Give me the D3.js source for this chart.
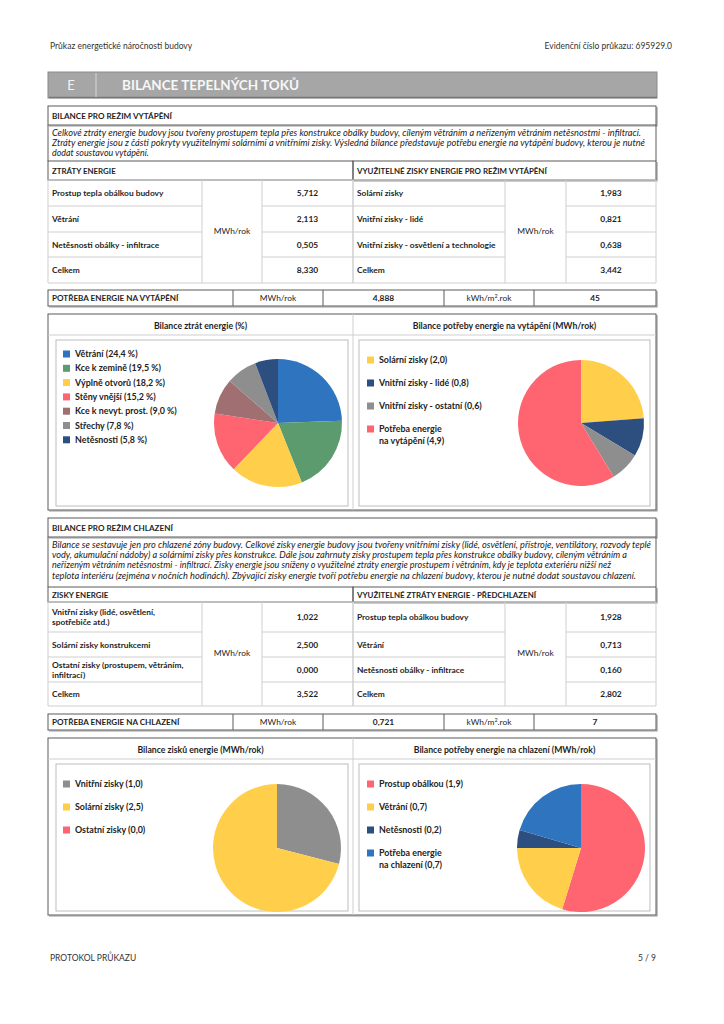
<!DOCTYPE html>
<html><head><meta charset="utf-8">
<script src="https://cdn.jsdelivr.net/npm/d3@7"></script>
<style>body{margin:0;background:#fff}svg{display:block;font-family:Lato,'Open Sans',sans-serif}</style>
</head><body><svg id="c" width="724" height="1024"></svg>
<script>
// ---------- DATA ----------
const heatLossLabels = ["Prostup tepla obálkou budovy", "Větrání", "Netěsnosti obálky - infiltrace", "Celkem"];
const heatLossValues = [5.712, 2.113, 0.505, 8.330];
const heatGainLabels = ["Solární zisky", "Vnitřní zisky - lidé", "Vnitřní zisky - osvětlení a technologie", "Celkem"];
const heatGainValues = [1.983, 0.821, 0.638, 3.442];
const heatNeed = [4.888, 45];

const coolGainLabels = ["Vnitřní zisky (lidé, osvětlení,\nspotřebiče atd.)", "Solární zisky konstrukcemi", "Ostatní zisky (prostupem, větráním,\ninfiltrací)", "Celkem"];
const coolGainValues = [1.022, 2.500, 0.000, 3.522];
const coolLossLabels = ["Prostup tepla obálkou budovy", "Větrání", "Netěsnosti obálky - infiltrace", "Celkem"];
const coolLossValues = [1.928, 0.713, 0.160, 2.802];
const coolNeed = [0.721, 7];

const pieLossLabels = ["Větrání", "Kce k zemině", "Výplně otvorů", "Stěny vnější", "Kce k nevyt. prost.", "Střechy", "Netěsnosti"];
const pieLossValues = [24.4, 19.5, 18.2, 15.2, 9.0, 7.8, 5.8];
const pieLossColors = ["#2f74bf", "#5b9b6e", "#ffcf4c", "#fe6570", "#a06f72", "#8e8e8e", "#2d4f80"];

const pieHeatLabels = ["Solární zisky", "Vnitřní zisky - lidé", "Vnitřní zisky - ostatní", "Potřeba energie\nna vytápění"];
const pieHeatValues = [1.983, 0.821, 0.638, 4.888];
const pieHeatColors = ["#ffcf4c", "#2d4f80", "#8e8e8e", "#fe6570"];

const pieCoolGainLabels = ["Vnitřní zisky", "Solární zisky", "Ostatní zisky"];
const pieCoolGainValues = [1.022, 2.500, 0.000];
const pieCoolGainColors = ["#8e8e8e", "#ffcf4c", "#fe6570"];

const pieCoolLabels = ["Prostup obálkou", "Větrání", "Netěsnosti", "Potřeba energie\nna chlazení"];
const pieCoolValues = [1.928, 0.713, 0.160, 0.721];
const pieCoolColors = ["#fe6570", "#ffcf4c", "#2d4f80", "#2f74bf"];

const heatParagraph = [
  "Celkové ztráty energie budovy jsou tvořeny prostupem tepla přes konstrukce obálky budovy, cíleným větráním a neřízeným větráním netěsnostmi - infiltrací.",
  "Ztráty energie jsou z části pokryty využitelnými solárními a vnitřními zisky. Výsledná bilance představuje potřebu energie na vytápění budovy, kterou je nutné",
  "dodat soustavou vytápění."];
const coolParagraph = [
  "Bilance se sestavuje jen pro chlazené zóny budovy. Celkové zisky energie budovy jsou tvořeny vnitřními zisky (lidé, osvětlení, přístroje, ventilátory, rozvody teplé",
  "vody, akumulační nádoby) a solárními zisky přes konstrukce. Dále jsou zahrnuty zisky prostupem tepla přes konstrukce obálky budovy, cíleným větráním a",
  "neřízeným větráním netěsnostmi - infiltrací. Zisky energie jsou sníženy o využitelné ztráty energie prostupem i větráním, kdy je teplota exteriéru nižší než",
  "teplota interiéru (zejména v nočních hodinách). Zbývající zisky energie tvoří potřebu energie na chlazení budovy, kterou je nutné dodat soustavou chlazení."];

// ---------- HELPERS ----------
const svg = d3.select("#c");
const INK = "#1e1e1e", DARK = "#5a5a5a", LIGHT = "#cfcfcf";
const fmt3 = v => d3.format(".3f")(v).replace(".", ",");
const fmt1 = v => d3.format(".1f")(v).replace(".", ",");
const L = 48, R = 656;

function txt(x, y, s, o = {}) {
  const t = svg.append("text").attr("x", x).attr("y", y).text(s)
    .attr("font-size", o.size || 8).attr("fill", o.fill || INK)
    .attr("font-weight", o.bold ? "bold" : "normal")
    .attr("text-anchor", o.anchor || "start");
  if (o.italic) t.attr("font-style", "italic");
  if (o.len) t.attr("textLength", o.len).attr("lengthAdjust", "spacingAndGlyphs");
  return t;
}
function line(x1, y1, x2, y2, c, w = 1) {
  svg.append("line").attr("x1", x1).attr("y1", y1).attr("x2", x2).attr("y2", y2)
    .attr("stroke", c).attr("stroke-width", w);
}
function box(x, y, w, h, c = DARK, sw = 1, shadow = true) {
  if (shadow) {
    svg.append("path").attr("d", `M${x + w + 1},${y + 1}V${y + h + 1}H${x + 1}`)
      .attr("fill", "none").attr("stroke", "#9a9a9a").attr("stroke-width", 1.2);
  }
  svg.append("rect").attr("x", x).attr("y", y).attr("width", w).attr("height", h)
    .attr("fill", "none").attr("stroke", c).attr("stroke-width", sw);
}

// ---------- PAGE HEADER ----------
txt(50, 49, "Průkaz energetické náročnosti budovy", { size: 8.5, fill: "#333" });
txt(672, 49, "Evidenční číslo průkazu: 695929.0", { size: 8.5, fill: "#333", anchor: "end" });

// banner
svg.append("rect").attr("x", L).attr("y", 72).attr("width", R - L + 1).attr("height", 26)
  .attr("fill", "#a6a6a6").attr("stroke", "#8a8a8a");
line(L + 1, 97.5, R + 1, 97.5, "#777", 1.5);
line(96, 73, 96, 97, "#cfcfcf", 1.2);
txt(71, 90, "E", { size: 13, fill: "#f4f4f4", anchor: "middle" });
txt(122, 90, "BILANCE TEPELNÝCH TOKŮ", { size: 13.5, fill: "#f7f7f7", bold: true });

// ---------- SECTION + TABLE ----------
function section(y0, title, para, paraEnds, tableTop, headH, bounds, leftHead, rightHead,
                 lLabels, lVals, rLabels, rVals) {
  box(L, y0, R - L, 19);
  txt(52, y0 + 13, title, { size: 8.1, bold: true });
  line(L, y0 + 19, L, tableTop, DARK);
  line(R, y0 + 19, R, tableTop, DARK);
  para.forEach((s, i) => {
    const o = { size: 8.9, italic: true, fill: "#222" };
    if (paraEnds[i]) o.len = paraEnds[i] - 52;
    txt(52, y0 + 30 + i * 10.2, s, o);
  });
  // table header
  box(L, tableTop, 353 - L, headH, DARK, 1, false);
  box(353, tableTop, R - 353, headH, DARK, 1, true);
  txt(52, tableTop + headH / 2 + 3, leftHead, { size: 7.9, bold: true });
  txt(357, tableTop + headH / 2 + 3, rightHead, { size: 7.9, bold: true });
  const yTop = bounds[0], yBot = bounds[bounds.length - 1];
  const lc = [48, 202, 262, 353], rc = [353, 505, 566, 656];
  [lc, rc].forEach((cols, side) => {
    cols.forEach(x => line(x, yTop, x, yBot, LIGHT));
    bounds.forEach((b, i) => {
      if (i === 0 || i === bounds.length - 1) line(cols[0], b, cols[3], b, LIGHT);
      else { line(cols[0], b, cols[1], b, LIGHT); line(cols[2], b, cols[3], b, LIGHT); }
    });
    const labels = side ? rLabels : lLabels, vals = side ? rVals : lVals;
    labels.forEach((lab, i) => {
      const cy = (bounds[i] + bounds[i + 1]) / 2;
      const parts = lab.split("\n");
      parts.forEach((p, j) => txt(cols[0] + 4, cy + 3 + (j - (parts.length - 1) / 2) * 10, p, { size: 8.4, bold: true }));
      txt((cols[2] + cols[3]) / 2, cy + 3, fmt3(vals[i]), { size: 8.4, bold: true, anchor: "middle" });
    });
    txt((cols[1] + cols[2]) / 2, (yTop + yBot) / 2 + 2, "MWh/rok", { size: 8.4, anchor: "middle" });
  });
}
function needRow(y, title, vals) {
  box(L, y, R - L, 16);
  [233, 323, 444, 534].forEach(x => line(x, y, x, y + 16, DARK));
  const by = y + 11;
  txt(52, by, title, { size: 8.1, bold: true });
  txt(278, by, "MWh/rok", { size: 8.4, anchor: "middle" });
  txt(383.5, by, fmt3(vals[0]), { size: 8.4, bold: true, anchor: "middle" });
  const t = txt(489, by, "kWh/m", { size: 8.4, anchor: "middle" });
  t.append("tspan").attr("dy", -3).attr("font-size", 5.5).text("2");
  t.append("tspan").attr("dy", 3).text(".rok");
  txt(595, by, String(vals[1]), { size: 8.4, bold: true, anchor: "middle" });
}

section(106, "BILANCE PRO REŽIM VYTÁPĚNÍ", heatParagraph, [641, 645, null], 161, 19,
  [180, 206, 232, 257, 283], "ZTRÁTY ENERGIE", "VYUŽITELNÉ ZISKY ENERGIE PRO REŽIM VYTÁPĚNÍ",
  heatLossLabels, heatLossValues, heatGainLabels, heatGainValues);
needRow(290, "POTŘEBA ENERGIE NA VYTÁPĚNÍ", heatNeed);

section(518, "BILANCE PRO REŽIM CHLAZENÍ", coolParagraph, [651, 627, 611, 636], 587, 15,
  [602, 632, 657, 682, 706], "ZISKY ENERGIE", "VYUŽITELNÉ ZTRÁTY ENERGIE - PŘEDCHLAZENÍ",
  coolGainLabels, coolGainValues, coolLossLabels, coolLossValues);
needRow(714, "POTŘEBA ENERGIE NA CHLAZENÍ", coolNeed);

// ---------- PIE PANELS ----------
function panel(y0, y1, titles) {
  box(L, y0, R - L, y1 - y0);
  line(L, y0 + 21, R, y0 + 21, LIGHT);
  line(353, y0, 353, y1, LIGHT);
  txt(200.5, y0 + 15, titles[0], { size: 8.7, bold: true, anchor: "middle" });
  txt(504.5, y0 + 15, titles[1], { size: 8.7, bold: true, anchor: "middle" });
  svg.append("rect").attr("x", 56).attr("y", y0 + 26).attr("width", 292).attr("height", y1 - y0 - 30)
    .attr("fill", "none").attr("stroke", "#bdbdbd");
  svg.append("rect").attr("x", 359).attr("y", y0 + 26).attr("width", 291).attr("height", y1 - y0 - 30)
    .attr("fill", "none").attr("stroke", "#bdbdbd");
}
function pie(cx, cy, r, labels, values, colors, legX, legY, legStep, suffix, fmt) {
  const color = d3.scaleOrdinal().domain(labels).range(colors);
  const arcs = d3.pie().sort(null).value(d => d.v)(labels.map((l, i) => ({ l, v: values[i] })));
  const arc = d3.arc().innerRadius(0).outerRadius(r);
  svg.append("g").attr("transform", `translate(${cx},${cy})`)
    .selectAll("path").data(arcs).join("path")
    .attr("d", arc).attr("fill", d => color(d.data.l));
  let y = legY;
  labels.forEach((l, i) => {
    svg.append("rect").attr("x", legX).attr("y", y - 3.5).attr("width", 7).attr("height", 7)
      .attr("fill", color(l));
    const parts = l.split("\n");
    parts.forEach((p, j) => {
      const s = j === parts.length - 1 ? `${p} (${fmt(values[i])}${suffix})` : p;
      txt(legX + 12, y + 3 + j * 12, s, { size: 8.9, bold: true, fill: "#222" });
    });
    y += legStep;
  });
}

panel(314, 510, ["Bilance ztrát energie (%)", "Bilance potřeby energie na vytápění (MWh/rok)"]);
pie(278, 423, 64, pieLossLabels, pieLossValues, pieLossColors, 63, 354, 14.3, " %", fmt1);
pie(581, 423, 63, pieHeatLabels, pieHeatValues, pieHeatColors, 367, 360, 23, "", fmt1);

panel(738, 915, ["Bilance zisků energie (MWh/rok)", "Bilance potřeby energie na chlazení (MWh/rok)"]);
pie(277, 848, 64, pieCoolGainLabels, pieCoolGainValues, pieCoolGainColors, 63, 784, 23, "", fmt1);
pie(581, 848, 64, pieCoolLabels, pieCoolValues, pieCoolColors, 367, 784, 23, "", fmt1);

// ---------- FOOTER ----------
txt(50, 961, "PROTOKOL PRŮKAZU", { size: 8.5, fill: "#333" });
txt(656, 961, "5 / 9", { size: 8.5, fill: "#333", anchor: "end" });
</script></body></html>
